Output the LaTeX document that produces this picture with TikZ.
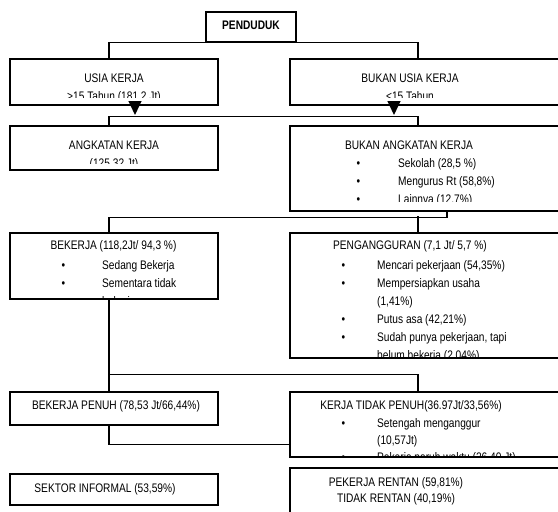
\documentclass[tikz,border=0pt]{standalone}
\usepackage{fontspec}
\setmainfont{Liberation Sans}[FakeStretch=0.82]
\usetikzlibrary{arrows.meta}

\tikzset{
  box/.style={draw, line width=1.3pt, inner sep=0pt},
  conn/.style={line width=1.3pt},
  arrowdown/.style={-{Triangle[length=14pt,width=13pt]}},
  lbl/.style={inner sep=0pt, font=\fontsize{12.4}{18}\selectfont},
}

\begin{document}
\begin{tikzpicture}[x=1pt, y=-1pt]
    \path[use as bounding box] (0,0) rectangle (558,512);
    \clip (0,0) rectangle (558,512);
    \coordinate (lx) at (109,0);
    \coordinate (rx) at (418,0);
    \coordinate (bx) at (447,0);
    \coordinate (tipl) at (135,115);
    \coordinate (tipr) at (394,115);

    % boxes
    \node[box, minimum width=90pt, minimum height=30pt] (pend) at (251,27) {};
    \node[box, minimum width=208pt, minimum height=46pt] (usia) at (114,82) {};
    \node[box, minimum width=285pt, minimum height=46pt] (bukanusia) at (432.5,82) {};
    \node[box, minimum width=208pt, minimum height=44pt] (angkatan) at (114,148) {};
    \node[box, minimum width=285pt, minimum height=85pt] (bukanak) at (432.5,168.5) {};
    \node[box, minimum width=208pt, minimum height=66pt] (bekerja) at (114,266) {};
    \node[box, minimum width=285pt, minimum height=125pt] (penganggur) at (432.5,295.5) {};
    \node[box, minimum width=208pt, minimum height=33pt] (bpenuh) at (114,408.5) {};
    \node[box, minimum width=285pt, minimum height=65pt] (ktpenuh) at (432.5,424.5) {};
    \node[box, minimum width=208pt, minimum height=31pt] (informal) at (114,489.5) {};
    \node[box, minimum width=285pt, minimum height=72pt] (rentan) at (432.5,504) {};

    % texts
    \node[lbl, font=\fontsize{12.4}{18}\selectfont\bfseries, anchor=north] (pendtxt) at (251,20.4) {PENDUDUK};
    \begin{scope}
      \clip (usia.north west) rectangle ([yshift=8pt]usia.south east);
      \node[lbl, align=center, anchor=north] (usiatxt) at (114,73.4) {USIA KERJA\\>15 Tahun (181,2 Jt)};
    \end{scope}
    \begin{scope}
      \clip (bukanusia.north west) rectangle ([yshift=8pt]bukanusia.south east);
      \node[lbl, align=center, anchor=north] (bukanusiatxt) at (410,73.4) {BUKAN USIA KERJA\\<15 Tahun};
    \end{scope}
    \begin{scope}
      \clip (angkatan.north west) rectangle ([yshift=7pt]angkatan.south east);
      \node[lbl, align=center, anchor=north] (angkatantxt) at (114,140.4) {ANGKATAN KERJA\\(125,32 Jt)};
    \end{scope}
    \begin{scope}
      \clip (bukanak.north west) rectangle ([yshift=10pt]bukanak.south east);
      \node[lbl, anchor=north] (bukanaktxt) at (409,140.4) {BUKAN ANGKATAN KERJA};
      \node[lbl, align=left, anchor=north west] (bukanaklist) at (356.3,158.4)
        {\makebox[41.7pt][l]{\textbullet}Sekolah (28,5 \%)\\
         \makebox[41.7pt][l]{\textbullet}Mengurus Rt (58,8\%)\\
         \makebox[41.7pt][l]{\textbullet}Lainnya (12,7\%)};
    \end{scope}
    \begin{scope}
      \clip (bekerja.north west) rectangle ([yshift=1.5pt]bekerja.south east);
      \node[lbl, anchor=north] (bekerjatxt) at (113.5,240.4) {BEKERJA (118,2Jt/ 94,3 \%)};
      \node[lbl, align=left, anchor=north west] (bekerjalist) at (61.3,260.4)
        {\makebox[40.7pt][l]{\textbullet}Sedang Bekerja\\
         \makebox[40.7pt][l]{\textbullet}Sementara tidak\\
         \makebox[40.7pt][l]{}bekerja};
    \end{scope}
    \begin{scope}
      \clip (penganggur.north west) rectangle ([yshift=1.5pt]penganggur.south east);
      \node[lbl, anchor=north] (penganggurtxt) at (410,240.4) {PENGANGGURAN (7,1 Jt/ 5,7 \%)};
      \node[lbl, align=left, anchor=north west] (penganggurlist) at (341.3,260.4)
        {\makebox[35.7pt][l]{\textbullet}Mencari pekerjaan (54,35\%)\\
         \makebox[35.7pt][l]{\textbullet}Mempersiapkan usaha\\
         \makebox[35.7pt][l]{}(1,41\%)\\
         \makebox[35.7pt][l]{\textbullet}Putus asa (42,21\%)\\
         \makebox[35.7pt][l]{\textbullet}Sudah punya pekerjaan, tapi\\
         \makebox[35.7pt][l]{}belum bekerja (2,04\%)};
    \end{scope}
    \node[lbl, anchor=north] (bpenuhtxt) at (116,400.4) {BEKERJA PENUH (78,53 Jt/66,44\%)};
    \begin{scope}
      \clip (ktpenuh.north west) rectangle ([yshift=1.5pt]ktpenuh.south east);
      \node[lbl, anchor=north] (ktpenuhtxt) at (411,400.4) {KERJA TIDAK PENUH(36.97Jt/33,56\%)};
      \node[lbl, align=left, anchor=north west] (ktpenuhlist) at (341.3,418.4)
        {\makebox[35.7pt][l]{\textbullet}Setengah menganggur\\[-1pt]
         \makebox[35.7pt][l]{}(10,57Jt)\\[-1pt]
         \makebox[35.7pt][l]{\textbullet}Pekerja paruh waktu (26,40 Jt)};
    \end{scope}
    \node[lbl, anchor=north] (informaltxt) at (105,483.4) {SEKTOR INFORMAL (53,59\%)};
    \node[lbl, align=center, anchor=north] (rentantxt) at (396,477.4) {PEKERJA RENTAN (59,81\%)\\[-2pt]TIDAK RENTAN (40,19\%)};

    % connectors
    \draw[conn] (usia.north -| lx) |- (pend.south) -| (bukanusia.north -| rx);
    \draw[conn, arrowdown] (usia.south -| tipl) -- (tipl);
    \draw[conn, arrowdown] (bukanusia.south -| tipr) -- (tipr);
    \draw[conn] (angkatan.north -| lx) -- ++(0,-9) -| (bukanak.north -| rx);
    \draw[conn] (bukanak.south -| bx) -- ++(0,6) -| (bekerja.north -| lx);
    \draw[conn] (penganggur.north -| rx) -- ++(0,-16);
    \draw[conn] (bekerja.south -| lx) -- (bpenuh.north -| lx);
    \draw[conn] (bpenuh.north -| lx) -- ++(0,-17) -| (ktpenuh.north -| rx);
    \draw[conn] (bpenuh.south -| lx) |- ([yshift=-20pt]ktpenuh.west);
\end{tikzpicture}
\end{document}
